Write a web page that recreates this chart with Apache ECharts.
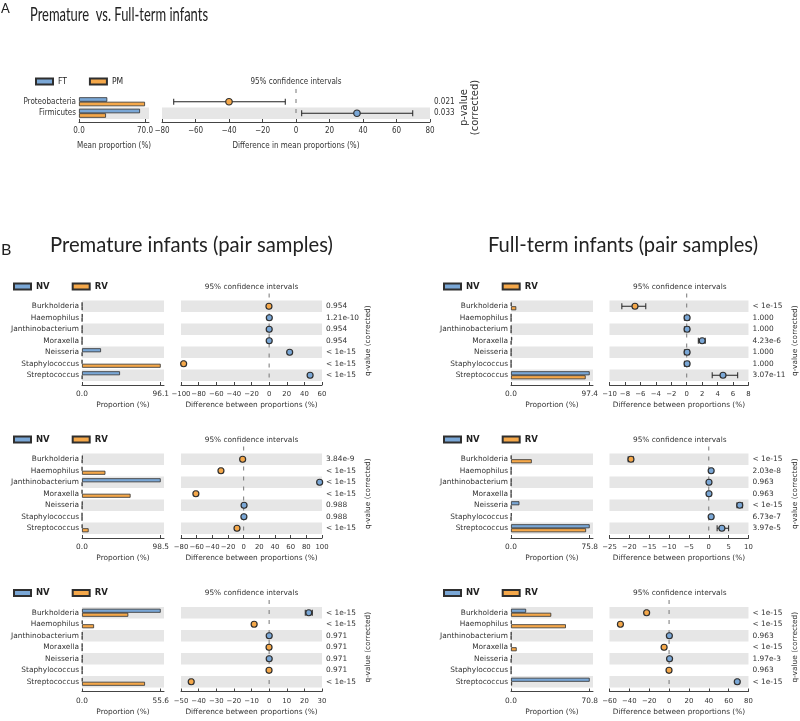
<!DOCTYPE html>
<html><head><meta charset="utf-8">
<script src="https://cdn.jsdelivr.net/npm/echarts@6/dist/echarts.min.js"></script>
<style>html,body{margin:0;padding:0;background:#fff}#chart{width:800px;height:721px}</style>
</head><body><div id="chart"></div>
<script>
// ================= DATA =================
// Panel A: Premature (PM) vs Full-term (FT)
const phylaA = ['Proteobacteria', 'Firmicutes'];
const aFT = [30.0, 64.7];
const aPM = [70.0, 28.6];
const aDiff = [-40.0, 36.4];
const aLow = [-73.0, 3.4];
const aHigh = [-6.4, 69.7];
const aP = ['0.021', '0.033'];
const aPropMax = 70.0;
const aDiffAxis = [-80, 80, 20];

// Panel B: genera (NV vs RV)
const genera = ['Burkholderia', 'Haemophilus', 'Janthinobacterium', 'Moraxella', 'Neisseria', 'Staphylococcus', 'Streptococcus'];

// Premature, top
const b1NV = [0.2, 0.5, 0.3, 0.2, 23.2, 0.1, 46.4];
const b1RV = [0.3, 0.2, 0.2, 0.1, 0.2, 96.1, 0.3];
const b1Diff = [-0.2, 0.2, 0.1, 0.1, 23.3, -97.0, 46.5];
const b1Low = [-0.6, -0.1, -0.2, -0.2, 22.5, -98.0, 45.5];
const b1High = [0.2, 0.5, 0.4, 0.4, 24.1, -96.0, 47.5];
const b1Q = ['0.954', '1.21e-10', '0.954', '0.954', '< 1e-15', '< 1e-15', '< 1e-15'];
const b1PropMax = 96.1;
const b1DiffAxis = [-100, 60, 20];

// Full-term, top
const b2NV = [0.5, 0.2, 0.3, 1.5, 0.3, 0.2, 97.4];
const b2RV = [6.5, 0.2, 0.2, 0.3, 0.2, 0.2, 92.4];
const b2Diff = [-6.7, 0.05, 0.05, 2.0, 0.05, 0.05, 4.7];
const b2Low = [-8.4, -0.3, -0.3, 1.5, -0.3, -0.3, 3.3];
const b2High = [-5.3, 0.3, 0.3, 2.4, 0.3, 0.3, 6.6];
const b2Q = ['< 1e-15', '1.000', '1.000', '4.23e-6', '1.000', '1.000', '3.07e-11'];
const b2PropMax = 97.4;
const b2DiffAxis = [-10, 8, 2];

// Premature, middle
const b3NV = [0.8, 0.1, 98.5, 0.1, 0.5, 0.1, 0.3];
const b3RV = [0.3, 29.3, 0.2, 60.8, 0.2, 0.1, 8.3];
const b3Diff = [-1.3, -29.0, 97.0, -61.0, 0.5, 0.3, -8.5];
const b3Low = [-2.0, -30.5, 96.0, -62.5, 0.0, 0.0, -9.5];
const b3High = [-0.6, -27.5, 98.0, -59.5, 1.0, 0.6, -7.5];
const b3Q = ['3.84e-9', '< 1e-15', '< 1e-15', '< 1e-15', '0.988', '0.988', '< 1e-15'];
const b3PropMax = 98.5;
const b3DiffAxis = [-80, 100, 20];

// Full-term, middle
const b4NV = [0.3, 0.3, 0.3, 0.2, 8.1, 0.5, 75.8];
const b4RV = [20.0, 0.2, 0.2, 0.2, 0.2, 0.1, 72.3];
const b4Diff = [-19.6, 0.6, 0.05, 0.05, 7.8, 0.6, 3.3];
const b4Low = [-20.3, 0.3, -0.2, -0.2, 7.1, 0.3, 2.1];
const b4High = [-19.0, 0.9, 0.3, 0.3, 8.5, 0.9, 5.0];
const b4Q = ['< 1e-15', '2.03e-8', '0.963', '0.963', '< 1e-15', '6.73e-7', '3.97e-5'];
const b4PropMax = 75.8;
const b4DiffAxis = [-25, 10, 5];

// Premature, bottom
const b5NV = [55.6, 0.3, 0.3, 0.2, 0.3, 0.2, 0.3];
const b5RV = [32.7, 8.5, 0.2, 0.2, 0.2, 0.2, 44.5];
const b5Diff = [22.5, -8.5, 0.05, -0.05, 0.05, -0.05, -44.2];
const b5Low = [20.5, -9.3, -0.3, -0.4, -0.3, -0.4, -45.0];
const b5High = [24.5, -7.7, 0.4, 0.3, 0.4, 0.3, -43.4];
const b5Q = ['< 1e-15', '< 1e-15', '0.971', '0.971', '0.971', '0.971', '< 1e-15'];
const b5PropMax = 55.6;
const b5DiffAxis = [-50, 30, 10];

// Full-term, bottom
const b6NV = [13.6, 0.5, 0.3, 0.3, 0.8, 0.2, 70.8];
const b6RV = [36.2, 49.4, 0.2, 5.1, 0.2, 0.2, 1.0];
const b6Diff = [-22.6, -49.0, 0.3, -5.0, 0.5, -0.05, 68.7];
const b6Low = [-23.5, -50.0, 0.0, -5.8, 0.1, -0.4, 67.8];
const b6High = [-21.7, -48.0, 0.6, -4.2, 0.9, 0.3, 69.6];
const b6Q = ['< 1e-15', '< 1e-15', '0.963', '< 1e-15', '1.97e-3', '0.963', '< 1e-15'];
const b6PropMax = 70.8;
const b6DiffAxis = [-60, 80, 20];

// ================= STYLE / LAYOUT =================
const BLUE = '#7aa7d6', ORANGE = '#f5a84a', EDGE = '#2f2f2f', BAND = '#e6e6e6', TXT = '#333';
const FONT_B = "'DejaVu Sans', sans-serif";
const FONT_A = "'Liberation Sans Narrow','DejaVu Sans Condensed','Roboto Condensed','Liberation Sans',sans-serif";
const minus = v => (v < 0 ? '\u2212' + Math.abs(v) : String(v));

const opt = { animation: false, backgroundColor: '#fff', grid: [], xAxis: [], yAxis: [], series: [], legend: [], graphic: [] };

function ciRender(params, api) {
  const lo = api.coord([api.value(0), api.value(2)]);
  const hi = api.coord([api.value(1), api.value(2)]);
  const h = 3;
  const st = { stroke: '#222', lineWidth: 1 };
  return { type: 'group', children: [
    { type: 'line', shape: { x1: lo[0], y1: lo[1], x2: hi[0], y2: hi[1] }, style: st },
    { type: 'line', shape: { x1: lo[0], y1: lo[1] - h, x2: lo[0], y2: lo[1] + h }, style: st },
    { type: 'line', shape: { x1: hi[0], y1: hi[1] - h, x2: hi[0], y2: hi[1] + h }, style: st }
  ] };
}
// dashed zero reference line, reaching a little above the plot area
function zeroRender(params, api) {
  const p = api.coord([api.value(0), 0]);
  const cs = params.coordSys;
  return { type: 'line', shape: { x1: p[0], y1: cs.y - 7, x2: p[0], y2: cs.y + cs.height },
    style: { stroke: '#777', lineWidth: 1, lineDash: [4, 6] } };
}

function addPanel(L, D) {
  const g = opt.grid.length, x = opt.xAxis.length, y = opt.yAxis.length;
  const txt = { fontFamily: L.font, fontSize: L.fs, color: TXT };
  const axLine = { show: true, onZero: false, lineStyle: { color: '#444', width: 1 } };
  opt.grid.push({ left: L.barLeft, top: L.top, width: L.barW, height: L.h });
  opt.grid.push({ left: L.dotLeft, top: L.top, width: L.dotW, height: L.h });
  opt.xAxis.push({ gridIndex: g, type: 'value', min: 0, max: D.propMax * L.barW / L.barTickW, offset: L.axOff,
    axisLine: axLine, splitLine: { show: false },
    axisTick: { show: true, inside: true, length: 3, customValues: [0, D.propMax], lineStyle: { color: '#444' } },
    axisLabel: Object.assign({ customValues: [0, D.propMax], formatter: v => v.toFixed(1), margin: L.lblMargin, hideOverlap: false }, txt),
    name: L.propName, nameLocation: 'middle', nameGap: L.nameGap, nameTextStyle: Object.assign({}, txt) });
  opt.xAxis.push({ gridIndex: g + 1, type: 'value', min: D.axis[0], max: D.axis[1], interval: D.axis[2], offset: L.axOff,
    axisLine: axLine, splitLine: { show: false },
    axisTick: { show: true, inside: true, length: 3, lineStyle: { color: '#444' } },
    axisLabel: Object.assign({}, txt, { formatter: minus, margin: L.lblMargin, showMinLabel: true, showMaxLabel: true, hideOverlap: false, fontSize: L.tickFs }),
    name: L.diffName, nameLocation: 'middle', nameGap: L.nameGap, nameTextStyle: Object.assign({}, txt) });
  const split = { show: true, interval: 0, areaStyle: { color: L.bands } };
  opt.yAxis.push({ gridIndex: g, type: 'category', data: D.cats, inverse: true,
    axisLine: { show: false }, axisTick: { show: false },
    axisLabel: Object.assign({ margin: L.catMargin, interval: 0 }, txt), splitArea: split });
  opt.yAxis.push({ gridIndex: g + 1, type: 'category', data: D.cats, inverse: true,
    axisLine: { show: false }, axisTick: { show: false }, axisLabel: { show: false }, splitArea: split });
  opt.yAxis.push({ gridIndex: g + 1, type: 'category', data: D.cats, inverse: true, position: 'right',
    axisLine: { show: false }, axisTick: { show: false }, splitArea: { show: false },
    axisLabel: Object.assign({ formatter: (v, i) => D.q[i], align: 'left', margin: L.qMargin, interval: 0 }, txt),
    name: L.qName, nameLocation: 'middle', nameRotate: 90, nameGap: L.qGap,
    nameTextStyle: Object.assign({}, txt, { fontSize: L.qFs, lineHeight: L.qFs * 1.15, fontFamily: FONT_B }) });

  const barStyle = c => ({ color: c, borderColor: EDGE, borderWidth: 0.8 });
  opt.series.push({ type: 'bar', name: L.names[0], xAxisIndex: x, yAxisIndex: y, data: D.g1, barWidth: L.barH, barGap: '0%', itemStyle: barStyle(BLUE), silent: true });
  opt.series.push({ type: 'bar', name: L.names[1], xAxisIndex: x, yAxisIndex: y, data: D.g2, barWidth: L.barH, barGap: '0%', itemStyle: barStyle(ORANGE), silent: true });
  opt.series.push({ type: 'custom', xAxisIndex: x + 1, yAxisIndex: y + 1, silent: true, z: 2, clip: false,
    data: [[0]], encode: { x: 0 }, renderItem: zeroRender });
  opt.series.push({ type: 'custom', xAxisIndex: x + 1, yAxisIndex: y + 1, silent: true, z: 3,
    data: D.lo.map((l, i) => [l, D.hi[i], i]), encode: { x: [0, 1], y: 2 }, renderItem: ciRender });
  opt.series.push({ type: 'scatter', xAxisIndex: x + 1, yAxisIndex: y + 1, z: 4, silent: true, symbolSize: L.dot,
    data: D.diff.map((d, i) => ({ value: [d, i], itemStyle: { color: d >= 0 ? BLUE : ORANGE } })),
    itemStyle: { borderColor: EDGE, borderWidth: 1.2, opacity: 1 } });

  opt.legend.push({ data: L.names, left: L.legLeft, top: L.top - L.legDy, padding: 0, itemWidth: 17, itemHeight: 6, itemGap: L.legGap,
    icon: 'rect', selectedMode: false, textStyle: { fontFamily: L.font, fontSize: L.legFs, fontWeight: L.legBold, color: '#222' } });
  opt.graphic.push({ type: 'text', x: L.dotLeft + L.dotW / 2, y: L.top - L.legDy + 5,
    style: { text: '95% confidence intervals', font: L.fs + 'px ' + L.font, fill: TXT, align: 'center', verticalAlign: 'middle', textAlign: 'center', textVerticalAlign: 'middle' } });
}

// Panel A
addPanel({ font: FONT_A, fs: 8, tickFs: 8, top: 96, h: 23, barLeft: 79, barW: 70, barTickW: 66, dotLeft: 162, dotW: 268,
  axOff: 3, lblMargin: 5, nameGap: 20, catMargin: 3, qMargin: 4, qGap: 23, qFs: 10,
  propName: 'Mean proportion (%)', diffName: 'Difference in mean proportions (%)', qName: 'p-value\n(corrected)',
  bands: ['rgba(0,0,0,0)', BAND], names: ['FT', 'PM'], barH: 4.5, dot: 6.5,
  legLeft: 35, legDy: 19, legGap: 22, legFs: 8.5, legBold: 'normal' },
  { cats: phylaA, g1: aFT, g2: aPM, diff: aDiff, lo: aLow, hi: aHigh, q: aP, propMax: aPropMax, axis: aDiffAxis });

// Panel B
const colL = { barLeft: 82, dotLeft: 181, dotW: 141, legLeft: 13 };
const colR = { barLeft: 511, dotLeft: 609.5, dotW: 140.5, legLeft: 443 };
const rowTops = [300.5, 453.5, 607];
const bBase = { font: FONT_B, fs: 7.4, tickFs: 6.9, h: 80.5, barW: 82, barTickW: 78.7, axOff: 4, lblMargin: 6, nameGap: 17,
  catMargin: 3, qMargin: 4, qGap: 42, qFs: 7.4,
  propName: 'Proportion (%)', diffName: 'Difference between proportions (%)', qName: 'q-value (corrected)',
  bands: [BAND, 'rgba(0,0,0,0)'], names: ['NV', 'RV'], barH: 4, dot: 6,
  legDy: 18.5, legGap: 22, legFs: 8.5, legBold: 'bold' };
const bData = [
  [colL, 0, { cats: genera, g1: b1NV, g2: b1RV, diff: b1Diff, lo: b1Low, hi: b1High, q: b1Q, propMax: b1PropMax, axis: b1DiffAxis }],
  [colR, 0, { cats: genera, g1: b2NV, g2: b2RV, diff: b2Diff, lo: b2Low, hi: b2High, q: b2Q, propMax: b2PropMax, axis: b2DiffAxis }],
  [colL, 1, { cats: genera, g1: b3NV, g2: b3RV, diff: b3Diff, lo: b3Low, hi: b3High, q: b3Q, propMax: b3PropMax, axis: b3DiffAxis }],
  [colR, 1, { cats: genera, g1: b4NV, g2: b4RV, diff: b4Diff, lo: b4Low, hi: b4High, q: b4Q, propMax: b4PropMax, axis: b4DiffAxis }],
  [colL, 2, { cats: genera, g1: b5NV, g2: b5RV, diff: b5Diff, lo: b5Low, hi: b5High, q: b5Q, propMax: b5PropMax, axis: b5DiffAxis }],
  [colR, 2, { cats: genera, g1: b6NV, g2: b6RV, diff: b6Diff, lo: b6Low, hi: b6High, q: b6Q, propMax: b6PropMax, axis: b6DiffAxis }]
];
bData.forEach(([c, r, d]) => addPanel(Object.assign({}, bBase, c, { top: rowTops[r] }), d));

// Titles
function fitScale(text, font, target) {
  const ctx = document.createElement('canvas').getContext('2d');
  ctx.font = font;
  const w = ctx.measureText(text).width;
  return w > 0 ? target / w : 1;
}
function title(text, x, y, font, target) {
  const s = target ? fitScale(text, font, target) : 1;
  opt.graphic.push({ type: 'text', x: x, y: y, scaleX: s, scaleY: 1,
    style: { text: text, font: font, fill: '#222', align: 'left', verticalAlign: 'middle', textAlign: 'left', textVerticalAlign: 'middle' } });
}
title('A', 1, 9, '13px Lato');
title('Premature  vs. Full-term infants', 30, 14.5, '20px Lato', 178);
title('B', 1, 250, '16px Lato');
title('Premature infants (pair samples)', 50, 245, '21px Lato', 283);
title('Full-term infants (pair samples)', 488, 245, '21px Lato', 270);

const chart = echarts.init(document.getElementById('chart'), null, { renderer: 'canvas' });
chart.setOption(opt);
</script></body></html>
